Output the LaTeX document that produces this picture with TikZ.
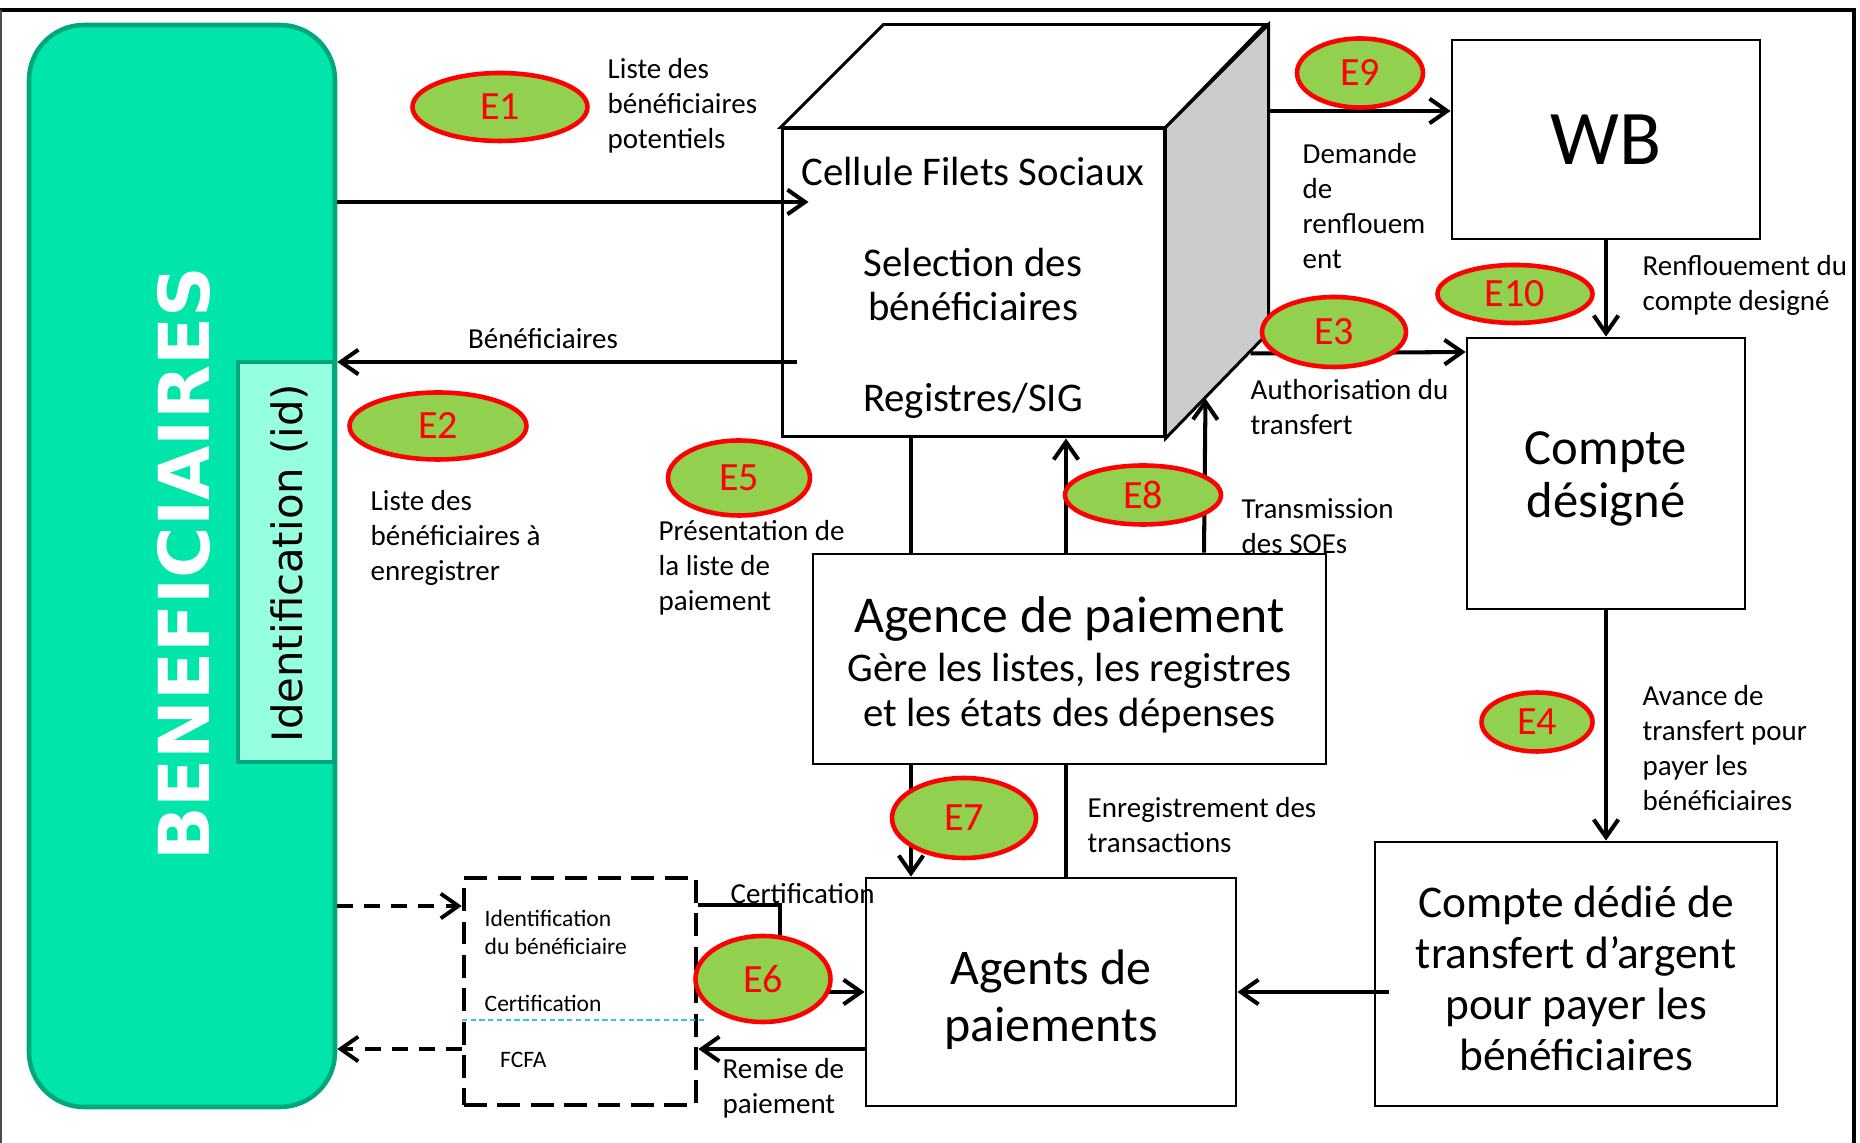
\documentclass[tikz,border=0pt]{standalone}
\usepackage{fontspec}
\setmainfont{Carlito}
\newfontfamily\dejavu{DejaVu Sans}
\usepackage{tikz}
\usetikzlibrary{calc, arrows.meta, shapes.geometric}
\definecolor{benefgreen}{HTML}{00E5AA}
\definecolor{benefborder}{HTML}{00A67C}
\definecolor{idcolor}{HTML}{96FFE0}
\definecolor{ecolor}{HTML}{92D050}
\definecolor{cubegray}{HTML}{CCCCCC}
\definecolor{certline}{HTML}{33CCCC}

\begin{document}
\begin{tikzpicture}[x = 0.1mm, y = -0.1mm,
        > = {Straight Barb[length = 5pt, width = 7pt]},
        box/.style = {draw, line width = 0.8pt, fill = white, align = center, inner sep = 0pt},
        ev/.style = {ellipse, draw = red, line width = 1.3pt, fill = ecolor, text = red, inner sep = 0pt, font = \fontsize{11.4}{13}\selectfont},
        lbl/.style = {anchor = west, align = left, inner sep = 0pt, font = \fontsize{8.25}{9.96}\selectfont},
        flow/.style = {->, line width = 1.15pt},
        plain/.style = {line width = 1.15pt},
        dflow/.style = {->, line width = 1.1pt, dash pattern = on 4.5pt off 3.2pt}]

        \useasboundingbox (0, 0) rectangle (1860, 1143);

        % Frame
        \draw [line width = 1.4pt] (0, 10) -- (1854, 10) -- (1854, 1143);
        \draw [black!70, line width = 0.5pt] (1, 10) -- (1, 1143);

        % Beneficiaires
        \node [draw = benefborder, fill = benefgreen, line width = 1.3pt, rounded corners = 5.5mm, minimum width = 30.6mm, minimum height = 108.2mm] (benef) at (182, 566) {};
        \node [rotate = 90, text = white, font = \dejavu\bfseries\fontsize{20}{24}\selectfont] (beneftxt) at (184, 564) {BENEFICIAIRES};
        \node [draw = benefborder, fill = idcolor, line width = 1.3pt, minimum width = 9.6mm, minimum height = 40mm] (idbox) at (286, 562) {};
        \node [rotate = 90, font = \dejavu\fontsize{11.9}{14}\selectfont] (idtxt) at (289, 563) {Identification (id)};

        % Cube
        \node [box, line width = 0.85pt, minimum width = 38.2mm, minimum height = 30.8mm, font = \fontsize{11.6}{12.5}\selectfont] (cfs) at (973, 283) {\rule{0pt}{10.9pt}Cellule Filets Sociaux\\[13.5pt] Selection des\\ bénéficiaires\\[13.5pt] Registres/SIG};
        \draw [line width = 0.85pt, fill = white] (cfs.north west) -- ++(103, -103) -- ++(382, 0) -- (cfs.north east) -- cycle;
        \draw [line width = 0.85pt, fill = cubegray] (cfs.north east) -- ++(103, -103) -- ++(0, 308) -- (cfs.south east) -- cycle;
        \coordinate (cfsback) at ($(cfs.north east) + (103, -103)$);

        % Boxes
        \node [box, minimum width = 30.8mm, minimum height = 19.9mm, font = \fontsize{22}{26}\selectfont] (wb) at (1606, 139.5) {WB};
        \node [box, minimum width = 27.8mm, minimum height = 27.1mm, font = \fontsize{14.4}{15.1}\selectfont] (compte) at (1606, 473.5) {\rule{0pt}{12.5pt}Compte\\ désigné};
        \node [box, minimum width = 51.3mm, minimum height = 21mm, font = \fontsize{11.6}{12.9}\selectfont] (agence) at (1069.5, 659) {{\fontsize{14.7}{14}\selectfont\rule{0pt}{13.7pt}Agence de paiement}\\[1pt] Gère les listes, les registres\\ et les états des dépenses};
        \node [box, minimum width = 37mm, minimum height = 22.8mm, font = \fontsize{14.2}{16.2}\selectfont] (agents) at (1051, 992) {\rule{0pt}{14pt}Agents de\\ paiements};
        \node [box, minimum width = 40.2mm, minimum height = 26.4mm, font = \fontsize{12.9}{14.5}\selectfont] (dedie) at (1576, 974) {\rule{0pt}{11.4pt}Compte dédié de\\ transfert d’argent\\ pour payer les\\ bénéficiaires};

        % Dashed box
        \node [draw, line width = 1.3pt, dash pattern = on 6.5pt off 3pt, minimum width = 23.2mm, minimum height = 22.7mm] (dbox) at (580, 991.5) {};
        \node [lbl, font = \fontsize{6.7}{8}\selectfont] (dbid) at (484, 932) {Identification\\ du bénéficiaire};
        \node [lbl, font = \fontsize{6.7}{8}\selectfont] (dbcert) at (484, 1003.6) {Certification};
        \node [lbl, font = \fontsize{6.7}{8}\selectfont] (dbfcfa) at (499.5, 1059.6) {FCFA};
        \draw [certline, line width = 0.5pt, dash pattern = on 1.5pt off 1pt] (dbox.west |- 0, 1020) -- ++(246, 0);

        % Connectors
        \draw [flow] (benef.east |- 0, 202) -- ($(cfs.west |- 0, 202) + (28, 0)$);
        \draw [flow] ($(cfs.west |- 0, 362) + (16, 0)$) -- (benef.east |- 0, 362);
        \draw [flow] (cfsback |- 0, 111) -- (wb.west |- 0, 111);
        \draw [flow] ($(cfs.south east) + (85, -85)$) -- (compte.west |- 0, 352);
        \draw [flow] (wb.south) -- (compte.north);
        \draw [flow] (compte.south) -- (compte.south |- dedie.north);
        \draw [flow] ($(dedie.west |- agents.east) + (15, 0)$) -- (agents.east);
        \draw [plain] (cfs.south -| 911, 0) -- (agence.north -| 911, 0);
        \draw [flow] (agence.north -| 1066, 0) -- (cfs.south -| 1066, 0);
        \draw [flow] (agence.north -| 1204, 0) -- ($(cfs.south east) + (40, -40)$);
        \draw [flow] (agence.south -| 911, 0) -- (agents.north -| 911, 0);
        \draw [plain] (agents.north -| 1066, 0) -- (agence.south -| 1066, 0);
        \draw [flow] (dbox.east |- 0, 905) -| (agents.west -| 780, 0) -- (agents.west);
        \draw [flow] (agents.west |- 0, 1049) -- (dbox.east |- 0, 1049);
        \draw [dflow] (benef.east |- 0, 906) -- (dbox.west |- 0, 906);
        \draw [dflow] (dbox.west |- 0, 1049) -- (benef.east |- 0, 1049);

        % Labels
        \node [lbl] (l1) at (607, 106) {Liste des\\ bénéficiaires\\ potentiels};
        \node [lbl, anchor = center] (l2) at (543, 339) {Bénéficiaires};
        \node [lbl] (l3) at (370, 538) {Liste des\\ bénéficiaires à\\ enregistrer};
        \node [lbl] (l4) at (658, 568) {Présentation de\\ la liste de\\ paiement};
        \node [lbl] (l5) at (1302, 206.5) {Demande\\ de\\ renflouem\\ ent};
        \node [lbl] (l6) at (1642, 285) {Renflouement du\\ compte designé};
        \node [lbl] (l7) at (1250, 407.5) {Authorisation du\\ transfert};
        \node [lbl] (l8) at (1241, 526) {Transmission\\ des SOEs};
        \node [lbl] (l9) at (1087, 825.5) {Enregistrement des\\ transactions};
        \node [lbl] (l10) at (1642, 748) {Avance de\\ transfert pour\\ payer les\\ bénéficiaires};
        \node [lbl] (l11) at (730, 894) {Certification};
        \node [lbl] (l12) at (722, 1088.5) {Remise de\\ paiement};

        % Steps
        \node [ev, minimum width = 17.5mm, minimum height = 6.8mm] (e1) at (500, 107) {E1};
        \node [ev, minimum width = 17.7mm, minimum height = 6.7mm] (e2) at (438, 426) {E2};
        \node [ev, minimum width = 14.4mm, minimum height = 7mm] (e3) at (1334, 332) {E3};
        \node [ev, minimum width = 11.1mm, minimum height = 5.9mm] (e4) at (1537, 722) {E4};
        \node [ev, minimum width = 14.2mm, minimum height = 7.5mm] (e5) at (739, 478) {E5};
        \node [ev, minimum width = 13.5mm, minimum height = 8.6mm] (e6) at (763, 979) {E6};
        \node [ev, minimum width = 14.4mm, minimum height = 8mm] (e7) at (964, 818) {E7};
        \node [ev, minimum width = 15.6mm, minimum height = 5.9mm] (e8) at (1143, 495) {E8};
        \node [ev, minimum width = 12.6mm, minimum height = 6.9mm] (e9) at (1360, 73) {E9};
        \node [ev, minimum width = 15.5mm, minimum height = 5.8mm] (e10) at (1515, 294) {E10};

    \end{tikzpicture}
\end{document}
